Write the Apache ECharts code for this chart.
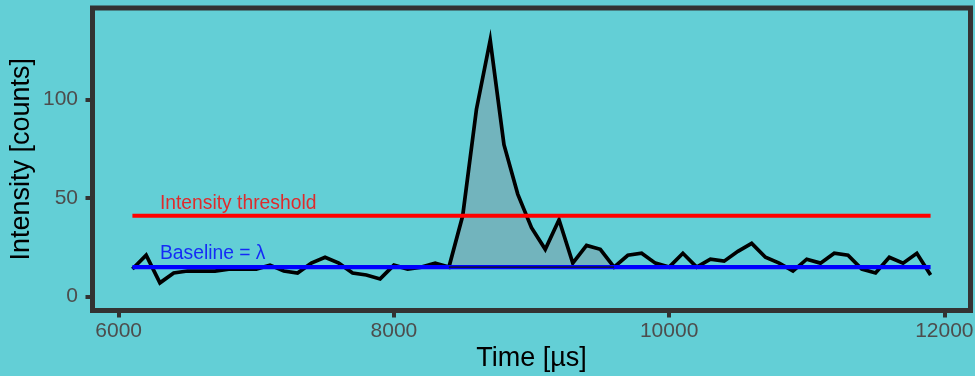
<!DOCTYPE html>
<html>
<head>
<meta charset="utf-8">
<script src="https://cdn.jsdelivr.net/npm/echarts@6/dist/echarts.min.js"></script>
<style>
html,body{margin:0;padding:0;background:#63CFD6;}
#chart{width:975px;height:376px;}
</style>
</head>
<body>
<div id="chart"></div>
<script>
// ---- data ----
const times = [6100,6200,6300,6400,6500,6600,6700,6800,6900,7000,7100,7200,7300,7400,7500,7600,7700,7800,7900,8000,
  8100,8200,8300,8400,8500,8600,8700,8800,8900,9000,9100,9200,9300,9400,9500,9600,9700,9800,9900,10000,
  10100,10200,10300,10400,10500,10600,10700,10800,10900,11000,11100,11200,11300,11400,11500,11600,11700,11800,11900];
const counts = [14,21,7,12,13,13,13,14,14,14,16,13,12,17,20,17,12,11,9,16,
  14,15,17,15,41,95,130,77,52,35,24,39,17,26,24,15,21,22,17,15,
  22,15,19,18,23,27,20,17,13,19,17,22,21,14,12,20,17,22,11];
const baseline = 15;          // lambda
const threshold = 41;         // intensity threshold
const peakStart = 8400;       // shaded region start
const peakEnd = 9600;         // shaded region end
const xTicks = [6000, 8000, 10000, 12000];
const yTicks = [0, 50, 100];
const labelTexts = ['Intensity threshold', 'Baseline = λ'];
const labelX = [6300, 6300];
const labelY = [47.3, 22];

// ---- derived ----
const lineData = times.map((t, i) => [t, counts[i]]);
const peakData = lineData.filter(d => d[0] >= peakStart && d[0] <= peakEnd);
const tMin = times[0], tMax = times[times.length - 1];

const font = 'Liberation Sans, Arial, Helvetica, sans-serif';
const chart = echarts.init(document.getElementById('chart'), null, {renderer: 'canvas'});
chart.setOption({
  backgroundColor: '#63CFD6',
  animation: false,
  grid: {left: 92.5, right: 4.5, top: 8, bottom: 65.5, show: true,
         borderColor: '#333333', borderWidth: 5, backgroundColor: 'transparent',
         containLabel: false, outerBoundsMode: 'none'},
  xAxis: {
    type: 'value', min: 5810, max: 12190,
    name: 'Time [µs]', nameLocation: 'middle', nameGap: 35, nameMoveOverlap: false,
    nameTextStyle: {color: '#000', fontSize: 27, fontFamily: font, verticalAlign: 'top'},
    axisLine: {show: false, onZero: false},
    splitLine: {show: false},
    axisTick: {show: true, length: 7, lineStyle: {color: '#333333', width: 4}, customValues: xTicks},
    axisLabel: {color: '#4D4D4D', fontSize: 21, fontFamily: font, margin: 10, customValues: xTicks,
                formatter: v => String(v)}
  },
  yAxis: {
    type: 'value', min: -7, max: 146.3,
    name: 'Intensity [counts]', nameLocation: 'middle', nameGap: 57, nameMoveOverlap: false,
    nameTextStyle: {color: '#000', fontSize: 27, fontFamily: font},
    axisLine: {show: false, onZero: false},
    splitLine: {show: false},
    axisTick: {show: true, length: 7, lineStyle: {color: '#333333', width: 4}, customValues: yTicks},
    axisLabel: {color: '#4D4D4D', fontSize: 21, fontFamily: font, margin: 14.5, customValues: yTicks,
                formatter: v => String(v)}
  },
  series: [
    {
      type: 'line', data: peakData, symbol: 'none', z: 1,
      lineStyle: {width: 0},
      areaStyle: {color: '#72B4BD', opacity: 1, origin: baseline}
    },
    {
      type: 'line', data: lineData, symbol: 'none', z: 2,
      lineStyle: {color: '#000000', width: 3.7, join: 'miter'}
    },
    {
      type: 'line', data: [[tMin, baseline], [tMax, baseline]], symbol: 'none', z: 3,
      lineStyle: {color: '#0000FF', width: 4.3, cap: 'butt'}
    },
    {
      type: 'line', data: [[peakStart, baseline], [peakEnd, baseline]], symbol: 'none', z: 4,
      lineStyle: {color: '#10104A', width: 1.6}
    },
    {
      type: 'line', data: [[tMin, threshold], [tMax, threshold]], symbol: 'none', z: 3,
      lineStyle: {color: '#FF0000', width: 4, cap: 'butt'}
    },
    {
      type: 'scatter', symbolSize: 0, z: 5, silent: true,
      data: [
        {value: [labelX[0], labelY[0]], label: {show: true, formatter: labelTexts[0], color: '#FF0000'}},
        {value: [labelX[1], labelY[1]], label: {show: true, formatter: labelTexts[1], color: '#0000FF'}}
      ],
      label: {show: true, position: 'right', distance: 0, fontSize: 19.3, fontFamily: font}
    }
  ]
});
</script>
</body>
</html>
